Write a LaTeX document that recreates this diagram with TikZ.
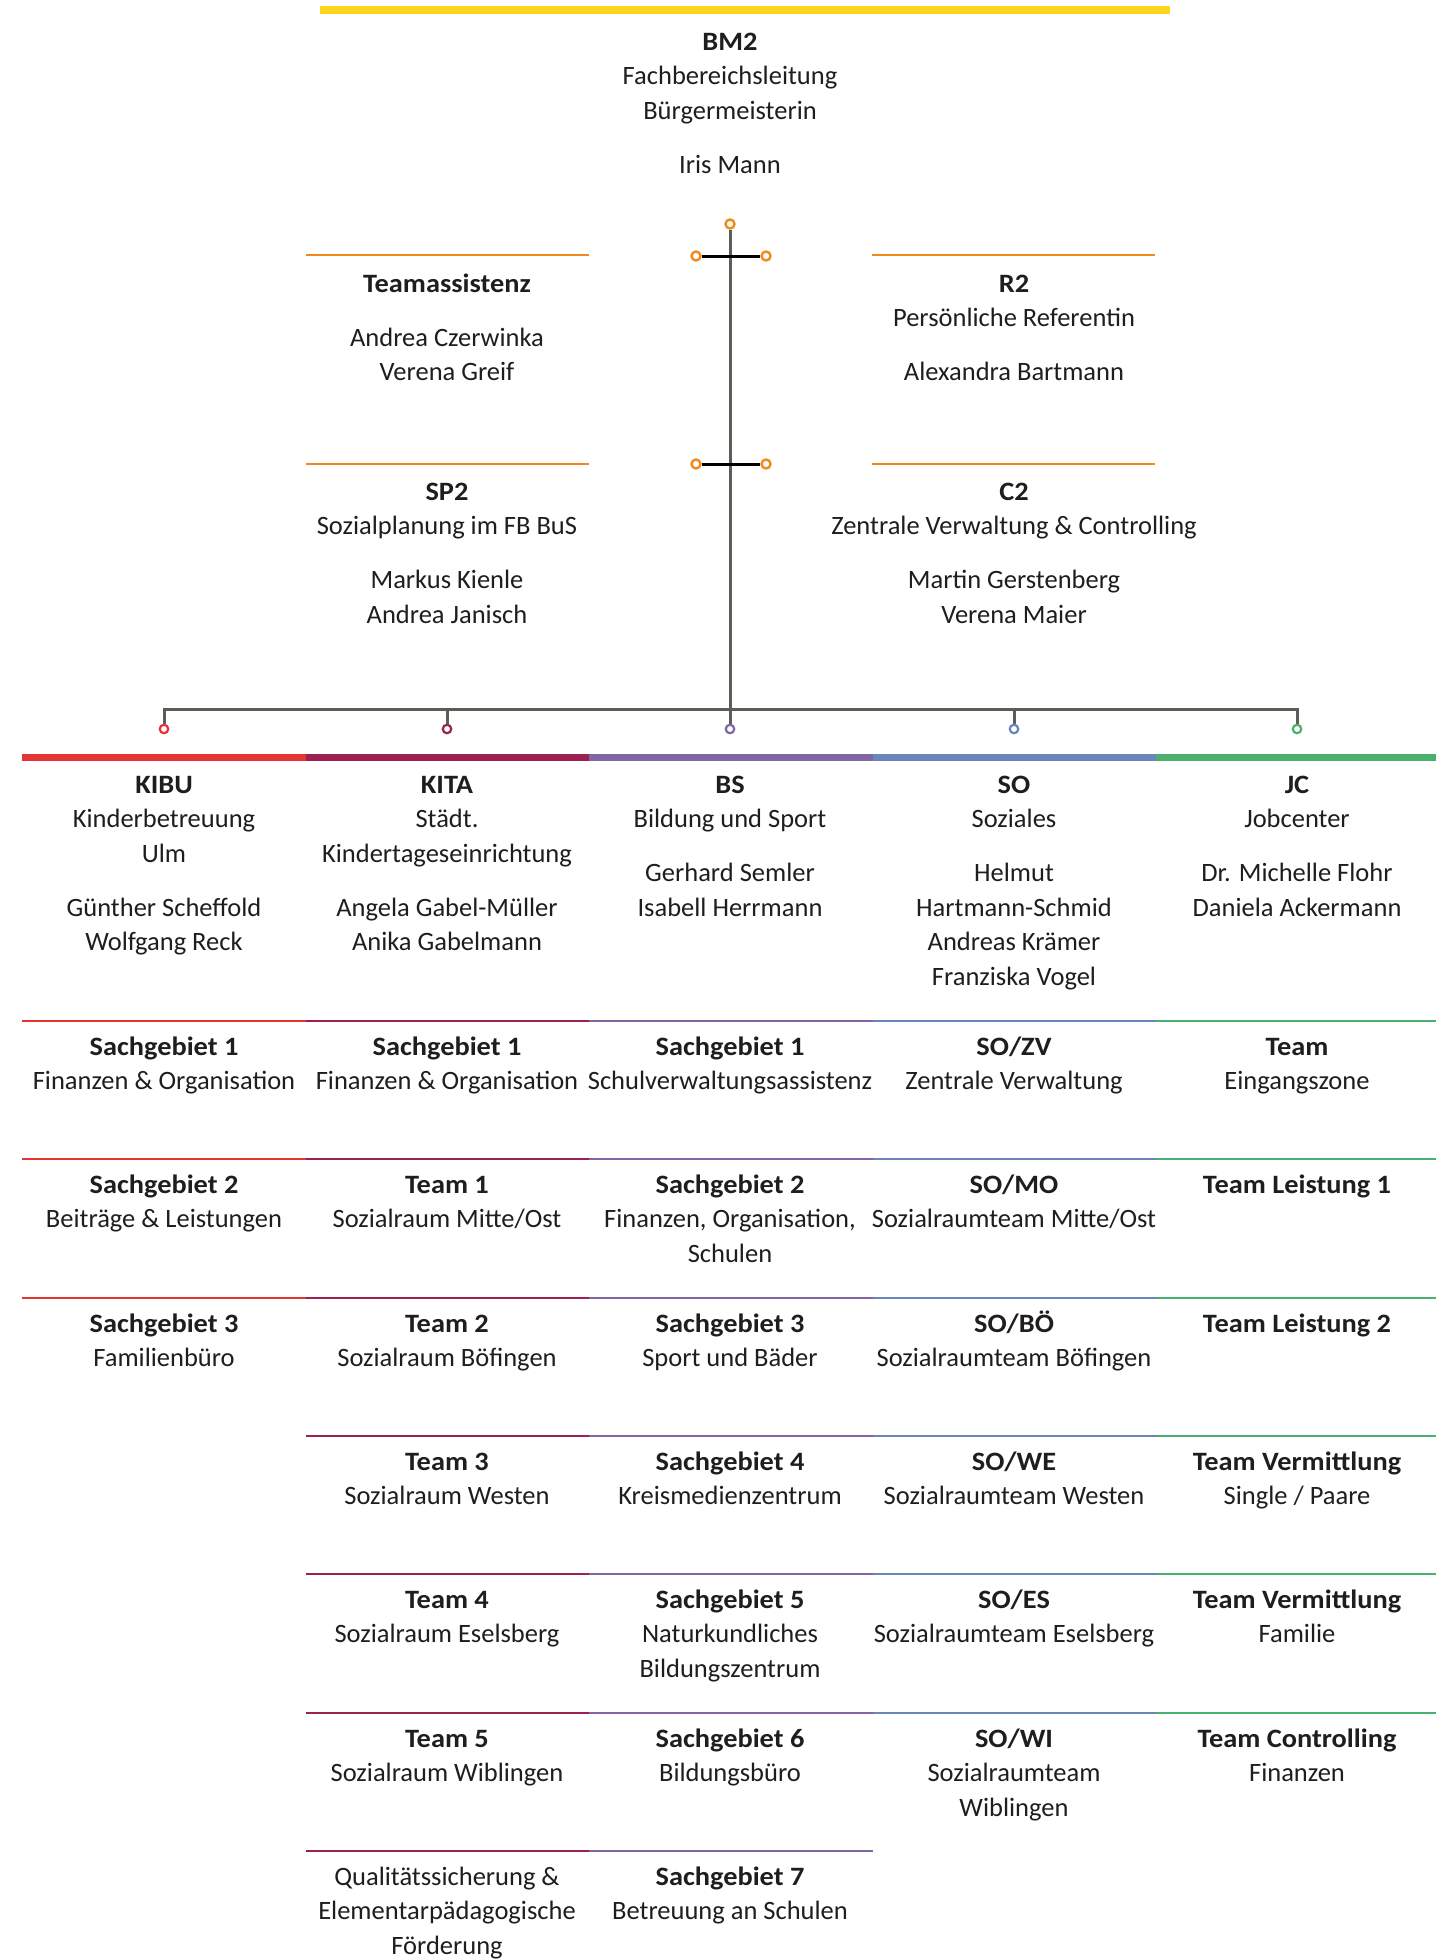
\documentclass[tikz,border=0pt]{standalone}
\usepackage{fontspec}
\setmainfont{Carlito}[BoldFeatures={FakeStretch=1.07}]
\definecolor{cYellow}{HTML}{FDD51B}
\definecolor{cOrange}{HTML}{F08A1C}
\definecolor{cKIBU}{HTML}{E53434}
\definecolor{cKITA}{HTML}{9B2152}
\definecolor{cBS}{HTML}{8066A2}
\definecolor{cSO}{HTML}{6A85B9}
\definecolor{cJC}{HTML}{49B16B}
\definecolor{cTrunk}{HTML}{5E5D55}
\definecolor{cText}{HTML}{1E1E1E}
\begin{document}
\begin{tikzpicture}[x=1pt,y=-1pt,
  txt/.style={anchor=north, align=center, inner sep=0pt, text=cText,
    font=\fontsize{26.5}{34.5}\selectfont},
  orangeline/.style={cOrange, line width=2.4pt},
  thickbar/.style={line width=7pt},
  thinline/.style={line width=2.2pt},
  trunkline/.style={cTrunk, line width=3pt},
  crossbar/.style={black, line width=3pt},
  ring/.style={circle, draw=cOrange, fill=white, line width=2.4pt, minimum size=9pt, inner sep=0pt},
  dotc/.style={circle, draw=#1, fill=white, line width=2.2pt, minimum size=8.5pt, inner sep=0pt}
]
\useasboundingbox[fill=white] (0,0) rectangle (1436,1959);

% top yellow bar
\draw[cYellow, line width=8pt] (320,10) -- (1170,10);
\node[txt] (bm2) at (730,26) {\strut\textbf{BM2}\\Fachbereichsleitung\\Bürgermeisterin\\[19.5pt]Iris Mann};

% orange lines
\draw[orangeline] (306,255) -- (589,255);
\draw[orangeline] (872,255) -- (1155,255);
\draw[orangeline] (306,464) -- (589,464);
\draw[orangeline] (872,464) -- (1155,464);

\node[txt] (ta) at (447,268) {\strut\textbf{Teamassistenz}\\[19.5pt]Andrea Czerwinka\\Verena Greif};
\node[txt] (r2) at (1014,268) {\strut\textbf{R2}\\Persönliche Referentin\\[19.5pt]Alexandra Bartmann};
\node[txt] (sp2) at (447,476) {\strut\textbf{SP2}\\Sozialplanung im FB BuS\\[19.5pt]Markus Kienle\\Andrea Janisch};
\node[txt] (c2) at (1014,476) {\strut\textbf{C2}\\Zentrale Verwaltung \& Controlling\\[19.5pt]Martin Gerstenberg\\Verena Maier};

% connector nodes
\node[ring] (ctop) at (730,224) {};
\node[ring] (cl1) at (696,256) {};
\node[ring] (cr1) at (766,256) {};
\node[ring] (cl2) at (696,464) {};
\node[ring] (cr2) at (766,464) {};
\node[dotc=cKIBU] (dKIBU) at (164,729) {};
\node[dotc=cKITA] (dKITA) at (447,729) {};
\node[dotc=cBS]   (dBS)   at (730,729) {};
\node[dotc=cSO]   (dSO)   at (1014,729) {};
\node[dotc=cJC]   (dJC)   at (1297,729) {};
\coordinate (busL) at (164,709);
\coordinate (busR) at (1297,709);

\draw[trunkline] (ctop) -- (dBS);
\draw[crossbar] (cl1) -- (cr1);
\draw[crossbar] (cl2) -- (cr2);
\draw[trunkline] (dKIBU) -- (busL) -- (busR) -- (dJC);
\draw[trunkline] (dKITA) -- (dKITA |- busL);
\draw[trunkline] (dSO) -- (dSO |- busL);

% thick colour bars
\draw[thickbar, cKIBU] (22,757) -- (305.5,757);
\draw[thickbar, cKITA] (305.5,757) -- (589,757);
\draw[thickbar, cBS] (589,757) -- (872.5,757);
\draw[thickbar, cSO] (872.5,757) -- (1156,757);
\draw[thickbar, cJC] (1156,757) -- (1436,757);

% column heads
\node[txt] (kibu) at (164,769) {\strut\textbf{KIBU}\\Kinderbetreuung\\Ulm\\[19.5pt]Günther Scheffold\\Wolfgang Reck};
\node[txt] (kita) at (447,769) {\strut\textbf{KITA}\\Städt.\\Kindertageseinrichtung\\[19.5pt]Angela Gabel-Müller\\Anika Gabelmann};
\node[txt] (bs) at (730,769) {\strut\textbf{BS}\\Bildung und Sport\\[19.5pt]Gerhard Semler\\Isabell Herrmann};
\node[txt] (so) at (1014,769) {\strut\textbf{SO}\\Soziales\\[19.5pt]Helmut\\Hartmann-Schmid\\Andreas Krämer\\Franziska Vogel};
\node[txt] (jc) at (1297,769) {\strut\textbf{JC}\\Jobcenter\\[19.5pt]Dr. Michelle Flohr\\Daniela Ackermann};

% thin row lines
\foreach \yy in {1021,1159.3,1297.7} \draw[thinline, cKIBU] (22,\yy) -- (305.5,\yy);
\foreach \yy in {1021,1159.3,1297.7,1436,1574.3,1712.7,1851} {
  \draw[thinline, cKITA] (305.5,\yy) -- (589,\yy);
  \draw[thinline, cBS] (589,\yy) -- (872.5,\yy);
}
\foreach \yy in {1021,1159.3,1297.7,1436,1574.3,1712.7} {
  \draw[thinline, cSO] (872.5,\yy) -- (1156,\yy);
  \draw[thinline, cJC] (1156,\yy) -- (1436,\yy);
}

% KIBU rows
\node[txt] (kibu1) at (164,1031) {\strut\textbf{Sachgebiet 1}\\Finanzen \& Organisation};
\node[txt] (kibu2) at (164,1169) {\strut\textbf{Sachgebiet 2}\\Beiträge \& Leistungen};
\node[txt] (kibu3) at (164,1308) {\strut\textbf{Sachgebiet 3}\\Familienbüro};

% KITA rows
\node[txt] (kita1) at (447,1031) {\strut\textbf{Sachgebiet 1}\\Finanzen \& Organisation};
\node[txt] (kita2) at (447,1169) {\strut\textbf{Team 1}\\Sozialraum Mitte/Ost};
\node[txt] (kita3) at (447,1308) {\strut\textbf{Team 2}\\Sozialraum Böfingen};
\node[txt] (kita4) at (447,1446) {\strut\textbf{Team 3}\\Sozialraum Westen};
\node[txt] (kita5) at (447,1584) {\strut\textbf{Team 4}\\Sozialraum Eselsberg};
\node[txt] (kita6) at (447,1723) {\strut\textbf{Team 5}\\Sozialraum Wiblingen};
\node[txt] (kita7) at (447,1861) {\strut Qualitätssicherung \&\\Elementarpädagogische\\Förderung};

% BS rows
\node[txt] (bs1) at (730,1031) {\strut\textbf{Sachgebiet 1}\\Schulverwaltungsassistenz};
\node[txt] (bs2) at (730,1169) {\strut\textbf{Sachgebiet 2}\\Finanzen, Organisation,\\Schulen};
\node[txt] (bs3) at (730,1308) {\strut\textbf{Sachgebiet 3}\\Sport und Bäder};
\node[txt] (bs4) at (730,1446) {\strut\textbf{Sachgebiet 4}\\Kreismedienzentrum};
\node[txt] (bs5) at (730,1584) {\strut\textbf{Sachgebiet 5}\\Naturkundliches\\Bildungszentrum};
\node[txt] (bs6) at (730,1723) {\strut\textbf{Sachgebiet 6}\\Bildungsbüro};
\node[txt] (bs7) at (730,1861) {\strut\textbf{Sachgebiet 7}\\Betreuung an Schulen};

% SO rows
\node[txt] (so1) at (1014,1031) {\strut\textbf{SO/ZV}\\Zentrale Verwaltung};
\node[txt] (so2) at (1014,1169) {\strut\textbf{SO/MO}\\Sozialraumteam Mitte/Ost};
\node[txt] (so3) at (1014,1308) {\strut\textbf{SO/BÖ}\\Sozialraumteam Böfingen};
\node[txt] (so4) at (1014,1446) {\strut\textbf{SO/WE}\\Sozialraumteam Westen};
\node[txt] (so5) at (1014,1584) {\strut\textbf{SO/ES}\\Sozialraumteam Eselsberg};
\node[txt] (so6) at (1014,1723) {\strut\textbf{SO/WI}\\Sozialraumteam\\Wiblingen};

% JC rows
\node[txt] (jc1) at (1297,1031) {\strut\textbf{Team}\\Eingangszone};
\node[txt] (jc2) at (1297,1169) {\strut\textbf{Team Leistung 1}};
\node[txt] (jc3) at (1297,1308) {\strut\textbf{Team Leistung 2}};
\node[txt] (jc4) at (1297,1446) {\strut\textbf{Team Vermittlung}\\Single / Paare};
\node[txt] (jc5) at (1297,1584) {\strut\textbf{Team Vermittlung}\\Familie};
\node[txt] (jc6) at (1297,1723) {\strut\textbf{Team Controlling}\\Finanzen};
\end{tikzpicture}
\end{document}
